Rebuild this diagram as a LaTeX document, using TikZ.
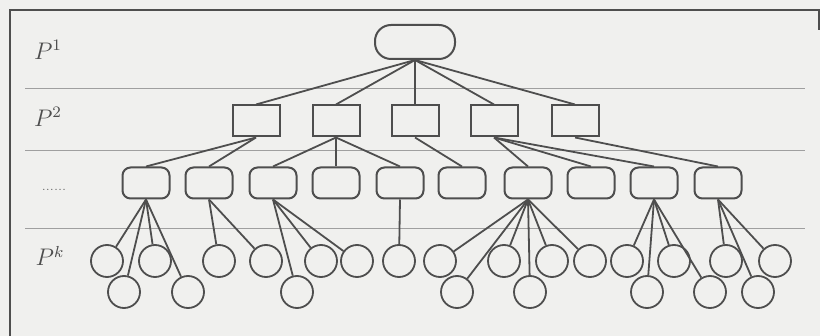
\documentclass[tikz,border=0pt]{standalone}
\usepackage{amsmath,amssymb}
\usepackage{tikz}

\definecolor{linegray}{RGB}{78,78,78}
\definecolor{paper}{RGB}{240,240,238}
\tikzset{
  rootbox/.style={draw=linegray,line width=1pt,rounded corners=8pt,minimum width=40pt,minimum height=17pt,inner sep=0pt},
  partbox/.style={draw=linegray,line width=1pt,minimum width=23.5pt,minimum height=15.5pt,inner sep=0pt},
  subbox/.style={draw=linegray,line width=1pt,rounded corners=4pt,minimum width=23.5pt,minimum height=15.5pt,inner sep=0pt},
  leaf/.style={draw=linegray,line width=0.9pt,circle,minimum size=16pt,inner sep=0pt},
  link/.style={draw=linegray,line width=0.9pt},
  divider/.style={draw=gray!75,line width=0.5pt},
  level/.style={text=linegray,font=\large}
}

\begin{document}
\begin{tikzpicture}[x=0.5pt,y=-0.5pt]
\fill[paper] (0,0) rectangle (820,336);
\useasboundingbox (0,0) rectangle (820,336);
\draw[linegray,line width=0.8pt] (819,30) -- (819,10) -- (10,10) -- (10,336);
\draw[divider] (25,89) -- (805,89);
\draw[divider] (25,151) -- (805,151);
\draw[divider] (25,229) -- (805,229);

\node[level] (l1) at (48,50) {\( P^1 \)};
\node[level] (l2) at (48,117) {\( P^2 \)};
\node[level] (l3) at (54,190) {\tiny......};
\node[level] (lk) at (50,256) {\( P^k \)};

\node[rootbox] (r) at (415,42) {};

\node[partbox] (p1) at (256,121) {};
\node[partbox] (p2) at (336,121) {};
\node[partbox] (p3) at (415,121) {};
\node[partbox] (p4) at (494,121) {};
\node[partbox] (p5) at (575,121) {};

\node[subbox] (q1) at (146,183) {};
\node[subbox] (q2) at (209,183) {};
\node[subbox] (q3) at (273,183) {};
\node[subbox] (q4) at (336,183) {};
\node[subbox] (q5) at (400,183) {};
\node[subbox] (q6) at (462,183) {};
\node[subbox] (q7) at (528,183) {};
\node[subbox] (q8) at (591,183) {};
\node[subbox] (q9) at (654,183) {};
\node[subbox] (q10) at (718,183) {};

\node[leaf] (u1) at (107,261) {};
\node[leaf] (u2) at (155,261) {};
\node[leaf] (u3) at (219,261) {};
\node[leaf] (u4) at (266,261) {};
\node[leaf] (u5) at (321,261) {};
\node[leaf] (u6) at (357,261) {};
\node[leaf] (u7) at (399,261) {};
\node[leaf] (u8) at (440,261) {};
\node[leaf] (u9) at (504,261) {};
\node[leaf] (u10) at (552,261) {};
\node[leaf] (u11) at (590,261) {};
\node[leaf] (u12) at (627,261) {};
\node[leaf] (u13) at (674,261) {};
\node[leaf] (u14) at (726,261) {};
\node[leaf] (u15) at (775,261) {};

\node[leaf] (v1) at (124,292) {};
\node[leaf] (v2) at (188,292) {};
\node[leaf] (v3) at (297,292) {};
\node[leaf] (v4) at (457,292) {};
\node[leaf] (v5) at (530,292) {};
\node[leaf] (v6) at (647,292) {};
\node[leaf] (v7) at (710,292) {};
\node[leaf] (v8) at (758,292) {};

\draw[link] (r.south) -- (p1.north);
\draw[link] (r.south) -- (p2.north);
\draw[link] (r.south) -- (p3.north);
\draw[link] (r.south) -- (p4.north);
\draw[link] (r.south) -- (p5.north);

\draw[link] (p1.south) -- (q1.north);
\draw[link] (p1.south) -- (q2.north);
\draw[link] (p2.south) -- (q3.north);
\draw[link] (p2.south) -- (q4.north);
\draw[link] (p2.south) -- (q5.north);
\draw[link] (p3.south) -- (q6.north);
\draw[link] (p4.south) -- (q7.north);
\draw[link] (p4.south) -- (q8.north);
\draw[link] (p4.south) -- (q9.north);
\draw[link] (p5.south) -- (q10.north);

\draw[link] (q1.south) -- (u1);
\draw[link] (q1.south) -- (v1);
\draw[link] (q1.south) -- (u2);
\draw[link] (q1.south) -- (v2);
\draw[link] (q2.south) -- (u3);
\draw[link] (q2.south) -- (u4);
\draw[link] (q3.south) -- (v3);
\draw[link] (q3.south) -- (u5);
\draw[link] (q3.south) -- (u6);
\draw[link] (q5.south) -- (u7);
\draw[link] (q7.south) -- (u8);
\draw[link] (q7.south) -- (v4);
\draw[link] (q7.south) -- (u9);
\draw[link] (q7.south) -- (v5);
\draw[link] (q7.south) -- (u10);
\draw[link] (q7.south) -- (u11);
\draw[link] (q9.south) -- (u12);
\draw[link] (q9.south) -- (v6);
\draw[link] (q9.south) -- (u13);
\draw[link] (q9.south) -- (v7);
\draw[link] (q10.south) -- (u14);
\draw[link] (q10.south) -- (v8);
\draw[link] (q10.south) -- (u15);
\end{tikzpicture}
\end{document}
